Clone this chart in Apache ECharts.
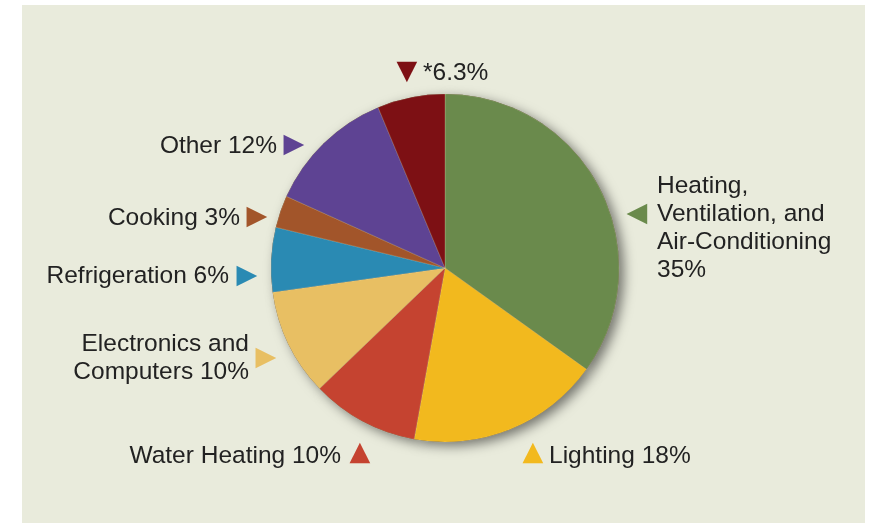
<!DOCTYPE html>
<html>
<head>
<meta charset="utf-8">
<script src="https://cdn.jsdelivr.net/npm/echarts@6/dist/echarts.min.js"></script>
<style>
html,body{margin:0;padding:0;background:#fff;}
#chart{width:877px;height:523px;}
</style>
</head>
<body>
<div id="chart"></div>
<script>
// ---- data ----
const categories = ['Heating, Ventilation, and Air-Conditioning', 'Lighting', 'Water Heating', 'Electronics and Computers', 'Refrigeration', 'Cooking', 'Other', '*'];
const values = [35, 18, 10, 10, 6, 3, 12, 6.3];
const labelTexts = ['Heating,\nVentilation, and\nAir-Conditioning\n35%', 'Lighting 18%', 'Water Heating 10%', 'Electronics and\nComputers 10%', 'Refrigeration 6%', 'Cooking 3%', 'Other 12%', '*6.3%'];
const markers = ['◀', '▲', '▲', '▶', '▶', '▶', '▶', '▼'];
const colors = ['#6a8a4c', '#f2b91e', '#c54330', '#e8bf63', '#2a8ab3', '#a2552a', '#5e4393', '#7d1014'];

// ---- layout (styles only) ----
const textPos = [
  {x: 657, y: 172, align: 'left', verticalAlign: 'top'},
  {x: 549, y: 456, align: 'left', verticalAlign: 'middle'},
  {x: 341, y: 456, align: 'right', verticalAlign: 'middle'},
  {x: 249, y: 358, align: 'right', verticalAlign: 'middle'},
  {x: 229, y: 276, align: 'right', verticalAlign: 'middle'},
  {x: 240, y: 218, align: 'right', verticalAlign: 'middle'},
  {x: 277, y: 146, align: 'right', verticalAlign: 'middle'},
  {x: 423, y: 73, align: 'left', verticalAlign: 'middle'}
];
const markerPos = [
  {x: 637, y: 214}, {x: 533, y: 453}, {x: 360, y: 453}, {x: 266, y: 358},
  {x: 247, y: 276}, {x: 257, y: 217}, {x: 294, y: 145}, {x: 407, y: 72}
];

const chart = echarts.init(document.getElementById('chart'), null, {renderer: 'canvas'});
const center = [445, 268];
const radius = 174;

const mainData = categories.map((c, i) => ({name: c, value: values[i], itemStyle: {color: colors[i]}}));
const markerData = categories.map((c, i) => ({name: c, value: values[i],
  label: {color: colors[i]}}));

chart.setOption({
  backgroundColor: '#ffffff',
  animation: false,
  graphic: [{
    type: 'rect', z: -10, silent: true,
    shape: {x: 22, y: 5, width: 843, height: 523},
    style: {fill: '#e9ebdc'}
  }],
  series: [
    {
      // shadow + marker series (under the main pie)
      type: 'pie', z: 1, silent: true,
      center: center, radius: radius,
      startAngle: 90, clockwise: true,
      itemStyle: {color: '#3a2a1a', shadowBlur: 12, shadowOffsetX: 5, shadowOffsetY: 4, shadowColor: 'rgba(0,0,0,0.5)'},
      label: {
        show: true, position: 'outside',
        formatter: p => markers[p.dataIndex],
        fontFamily: 'DejaVu Sans', fontSize: 27
      },
      labelLine: {show: false},
      labelLayout: p => ({x: markerPos[p.dataIndex].x, y: markerPos[p.dataIndex].y, align: 'center', verticalAlign: 'middle', hideOverlap: false}),
      data: markerData
    },
    {
      type: 'pie', z: 2, silent: true,
      center: center, radius: radius,
      startAngle: 90, clockwise: true,
      itemStyle: {borderColor: 'rgba(240,225,190,0.35)', borderWidth: 0.6},
      label: {
        show: true, position: 'outside',
        formatter: p => labelTexts[p.dataIndex],
        fontFamily: 'Liberation Sans, Arial, sans-serif', fontSize: 24.5,
        lineHeight: 28, color: '#222222'
      },
      labelLine: {show: false},
      labelLayout: p => Object.assign({hideOverlap: false}, textPos[p.dataIndex]),
      data: mainData
    }
  ]
});
</script>
</body>
</html>
